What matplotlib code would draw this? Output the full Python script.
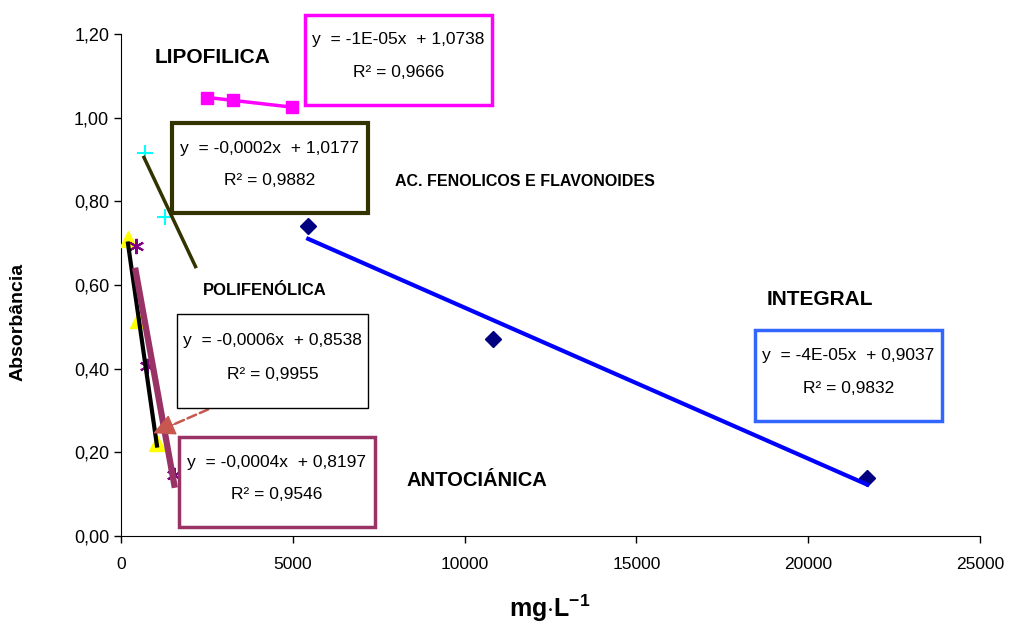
import numpy as np
import matplotlib.pyplot as plt
from matplotlib.patches import Rectangle

plt.rcParams['font.family'] = ['Liberation Sans', 'DejaVu Sans']
plt.rcParams['mathtext.fontset'] = 'custom'
plt.rcParams['mathtext.bf'] = 'Liberation Sans:bold'
plt.rcParams['mathtext.rm'] = 'Liberation Sans'

# data (x in mg/L, y absorbance)
integral_x = [5450, 10830, 21720]
integral_y = [0.741, 0.470, 0.138]
lipo_x = [2490, 3270, 4970]
lipo_y = [1.048, 1.042, 1.025]
fenol_x = [698, 1280]
fenol_y = [0.916, 0.762]
fenol_trend_x = [670, 2170]
fenol_trend_y = [0.905, 0.644]
polif_x = [204, 495, 1048]
polif_y = [0.710, 0.516, 0.222]
antoc_x = [428, 748, 1552]
antoc_y = [0.693, 0.406, 0.146]

yticks = [0.0, 0.2, 0.4, 0.6, 0.8, 1.0, 1.2]
xticks = [0, 5000, 10000, 15000, 20000, 25000]

fig = plt.figure(figsize=(10.13, 6.25), dpi=100)
ax = fig.add_axes([0.1194, 0.1424, 0.848, 0.8032])


def trend(x, y):
    k, b = np.polyfit(x, y, 1)
    xs = np.array([min(x), max(x)])
    return xs, k * xs + b


# markers
ax.plot(integral_x, integral_y, 'D', color='#000080', ms=8, zorder=3)
ax.plot(lipo_x, lipo_y, 's', color='#FF00FF', ms=9, zorder=3)
ax.plot(fenol_x, fenol_y, '+', color='#00FFFF', ms=11, mew=1.5, zorder=3)
ax.plot(polif_x, polif_y, '^', color='#FFFF00', ms=11, zorder=3)
ax.plot(antoc_x, antoc_y, marker=(6, 2, 0), ls='none', color='#800080',
        ms=11, mew=1.5, zorder=3)

# trendlines
tx, ty = trend(integral_x, integral_y)
ax.plot(tx, ty, color='#0000FF', lw=3, zorder=4)
tx, ty = trend(lipo_x, lipo_y)
ax.plot(tx, ty, color='#FF00FF', lw=2.5, zorder=4)
ax.plot(fenol_trend_x, fenol_trend_y, color='#333300', lw=2.5, zorder=4)
tx, ty = trend(polif_x, polif_y)
ax.plot(tx, ty, color='black', lw=3, zorder=4)
tx, ty = trend(antoc_x, antoc_y)
ax.plot(tx, ty, color='#993366', lw=4.5, zorder=4)

ax.set_xlim(0, 25000)
ax.set_ylim(0, 1.2)
ax.set_xticks(xticks)
ax.set_xticklabels([str(v) for v in xticks], fontsize=12.5)
ax.set_yticks(yticks)
ax.set_yticklabels([f'{v:.2f}'.replace('.', ',') for v in yticks], fontsize=13)
ax.tick_params(direction='out', length=5, width=1)
ax.tick_params(axis='x', pad=10)
for s in ['top', 'right']:
    ax.spines[s].set_visible(False)

fig.text(0.018, 0.485, 'Absorbância', rotation=90, fontsize=14,
         fontweight='bold', ha='center', va='center')
fig.text(0.543, 0.027, r'$\mathbf{mg{\cdot}L^{-1}}$', fontsize=18,
         ha='center', va='center')

# equation boxes: (x0, x1, y0, y1, edge colour, edge width, line1, line2)
boxes = [
    (5355, 10797, 1.0306, 1.2464, '#FF00FF', 2.5, 'y  = -1E-05x  + 1,0738', 'R² = 0,9666'),
    (1484, 7189, 0.7721, 0.9873, '#333300', 3.0, 'y  = -0,0002x  + 1,0177', 'R² = 0,9882'),
    (1630, 7189, 0.306, 0.5307, 'black', 1.0, 'y  = -0,0006x  + 0,8538', 'R² = 0,9955'),
    (1688, 7392, 0.0215, 0.2367, '#993366', 2.5, 'y  = -0,0004x  + 0,8197', 'R² = 0,9546'),
    (18452, 23894, 0.2749, 0.4924, '#3366FF', 2.5, 'y  = -4E-05x  + 0,9037', 'R² = 0,9832'),
]
for x0, x1, y0, y1, ec, lw, l1, l2 in boxes:
    ax.add_patch(Rectangle((x0, y0), x1 - x0, y1 - y0, facecolor='white',
                           edgecolor=ec, lw=lw, zorder=6, clip_on=False))
    h = y1 - y0
    xc = (x0 + x1) / 2
    ax.text(xc, y1 - 0.28 * h, l1, fontsize=12.5, ha='center', va='center',
            zorder=7, clip_on=False)
    ax.text(xc, y1 - 0.64 * h, l2, fontsize=12.5, ha='center', va='center',
            zorder=7, clip_on=False)

# series labels
ax.text(2677, 1.145, 'LIPOFILICA', fontsize=15, fontweight='bold',
        ha='center', va='center')
ax.text(11758, 0.8486, 'AC. FENOLICOS E FLAVONOIDES', fontsize=11.5,
        fontweight='bold', ha='center', va='center')
ax.text(4191, 0.588, 'POLIFENÓLICA', fontsize=12, fontweight='bold',
        ha='center', va='center')
ax.text(20343, 0.5665, 'INTEGRAL', fontsize=15, fontweight='bold',
        ha='center', va='center')
ax.text(10361, 0.1315, 'ANTOCIÁNICA', fontsize=14.5, fontweight='bold',
        ha='center', va='center')

# dashed arrow from polifenolica equation to its line
arrow_color = '#C8574F'
ax.annotate('', xy=(1500, 0.2655), xytext=(2968, 0.318),
            arrowprops=dict(arrowstyle='-', linestyle='--', lw=1.8,
                            color=arrow_color), zorder=5)
ax.annotate('', xy=(940, 0.2455), xytext=(1700, 0.2728),
            arrowprops=dict(arrowstyle='-|>', lw=1.0, color=arrow_color,
                            mutation_scale=34, shrinkA=0, shrinkB=0),
            zorder=5)

fig.savefig('out.png', dpi=100)
